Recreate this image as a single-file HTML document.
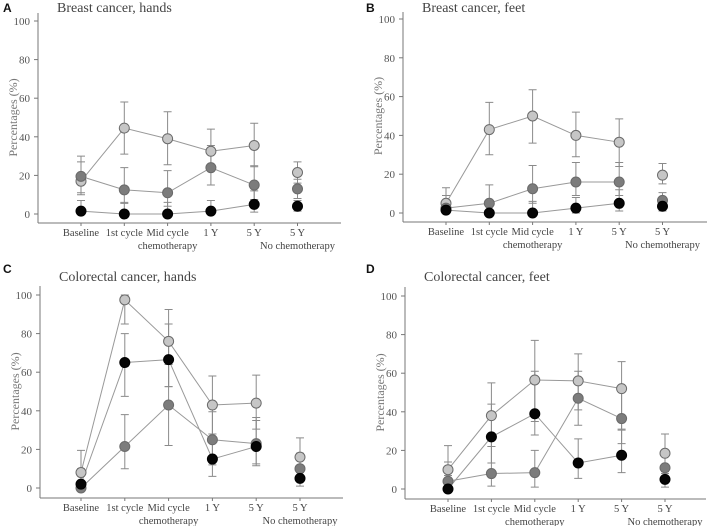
<!DOCTYPE html>
<html><head><meta charset="utf-8"><style>
html,body{margin:0;padding:0;background:#fff;}
svg{display:block;font-family:"Liberation Serif",serif;}
</style></head><body>
<svg id="chart" width="709" height="526" viewBox="0 0 709 526"></svg>
<script>
const categories = [["Baseline",""],["1st cycle",""],["Mid cycle","chemotherapy"],["1 Y",""],["5 Y",""],["5 Y","No chemotherapy"]];
const yTicks = [0,20,40,60,80,100];
const panelTitles = ["Breast cancer, hands","Breast cancer, feet","Colorectal cancer, hands","Colorectal cancer, feet"];
const panelLetters = ["A","B","C","D"];
const aLight=[17,44.5,39,32.5,35.5,21.5], aLightLo=[10,31,25.5,23.5,24.5,16], aLightHi=[27,58,53,44,47,27];
const aDark=[19.5,12.5,11,24,15,13], aDarkLo=[11,5.5,4,15,7.5,8], aDarkHi=[30,24,22.5,35.5,25,18];
const aBlack=[1.5,0,0,1.5,5,4], aBlackLo=[0,0,0,0,1,1.5], aBlackHi=[7,6,6,7,12,7];
const bLight=[5,43,50,40,36.5,19.5], bLightLo=[0,30,36,29,24,15], bLightHi=[13,57,63.5,52,48.5,25.5];
const bDark=[2.5,5,12.5,16,16,6.5], bDarkLo=[0,0,5,9,9,3], bDarkHi=[9,14.5,24.5,26,26,10.5];
const bBlack=[1.5,0,0,2.5,5,3.5], bBlackLo=[0,0,0,0,1,1], bBlackHi=[5,4,6,8,12,6];
const cLight=[8,97.5,76,43,44,16], cLightLo=[0,85,52.5,28,30.5,8], cLightHi=[19.5,100,92.5,58,58.5,26];
const cDark=[0,21.5,43,25,23,10], cDarkLo=[0,10,22,12,11.5,6], cDarkHi=[10,38,64,39.5,36.5,18];
const cBlack=[2,65,66.5,15,21.5,5], cBlackLo=[0,47.5,52.5,6,12.5,1], cBlackHi=[9,80,85,28,35,9];
const dLight=[10,38,56.5,56,52,18.5], dLightLo=[0,22,35,41,31,8], dLightHi=[22.5,55,77,70,66,28.5];
const dDark=[4,8,8.5,47,36.5,11], dDarkLo=[0,1.5,1,33,23.5,5], dDarkHi=[14,22,20,61,52,19];
const dBlack=[0,27,39,13.5,17.5,5], dBlackLo=[0,13.5,28,5.5,8.5,1], dBlackHi=[7,44,61,26,30.5,9];

const panelData=[
 [[aLight,aLightLo,aLightHi],[aDark,aDarkLo,aDarkHi],[aBlack,aBlackLo,aBlackHi]],
 [[bLight,bLightLo,bLightHi],[bDark,bDarkLo,bDarkHi],[bBlack,bBlackLo,bBlackHi]],
 [[cLight,cLightLo,cLightHi],[cDark,cDarkLo,cDarkHi],[cBlack,cBlackLo,cBlackHi]],
 [[dLight,dLightLo,dLightHi],[dDark,dDarkLo,dDarkHi],[dBlack,dBlackLo,dBlackHi]]
];
const geo=[
 {ax:38,y0:214,y100:21,xa:223,top:13,right:341,c0:81,dc:43.3,lx:3},
 {ax:403,y0:213,y100:19,xa:222,top:12,right:707,c0:446,dc:43.3,lx:366},
 {ax:40,y0:488,y100:295,xa:498,top:286,right:343,c0:81,dc:43.8,lx:3},
 {ax:405,y0:489,y100:296,xa:499,top:287,right:706,c0:448,dc:43.4,lx:366}
];
const fills=["#c6c6c6","#7c7c7c","#050505"];
const NS="http://www.w3.org/2000/svg";
const svg=document.getElementById('chart');
function mk(tag,attrs,parent){const e=document.createElementNS(NS,tag);for(const k in attrs)e.setAttribute(k,attrs[k]);(parent||svg).appendChild(e);return e;}
panelData.forEach((series,p)=>{
 const g=geo[p];
 const grp=mk('g',{});
 
 
 const ys=v=>g.y0+(g.y100-g.y0)*v/100;
 const xs=i=>g.c0+g.dc*i;
 const titleTop = p<2 ? 0 : 263;
 const L=mk('text',{x:g.lx,y:titleTop+(p<2?12:10),'font-family':'Liberation Sans,sans-serif','font-weight':'bold','font-size':'12',fill:'#111'},grp);
 L.textContent=panelLetters[p];
 
 
 const T=mk('text',{x:g.ax+19,y:titleTop+(p<2?12:18),'font-size':'14',fill:'#444'},grp);
 T.textContent=panelTitles[p];
 
 
 const yAx=mk('line',{x1:g.ax,y1:g.top,x2:g.ax,y2:g.xa,stroke:'#777','stroke-width':1},grp);
 
 
 const xAx=mk('line',{x1:g.ax,y1:g.xa,x2:g.right,y2:g.xa,stroke:'#777','stroke-width':1},grp);
 
 
 yTicks.forEach(t=>{
  const y=ys(t);
  mk('line',{x1:g.ax-4,y1:y,x2:g.ax,y2:y,stroke:'#777'},grp);
  const tl=mk('text',{x:g.ax-8,y:y+4,'text-anchor':'end','font-size':'11',fill:'#555'},grp);
  tl.textContent=t;
  
  
 });
 categories.forEach((c,i)=>{
  const x=xs(i);
  mk('line',{x1:x,y1:g.xa,x2:x,y2:g.xa+3,stroke:'#777'},grp);
  c.forEach((s,k)=>{ if(!s)return;
   const tx=mk('text',{x:x,y:g.xa+13+k*13,'text-anchor':'middle','font-size':'10.5',fill:'#444'},grp);
   tx.textContent=s;
   
   
  });
 });
 const yl=mk('text',{x:0,y:0,transform:`translate(${g.ax-21},${(g.y0+g.y100)/2}) rotate(-90)`,'text-anchor':'middle','font-size':'12',fill:'#777'},grp);
 yl.textContent='Percentages (%)';
 
 
 series.forEach((s,si)=>{
  s[0].forEach((v,i)=>{
   const x=xs(i);
   const e=mk('path',{d:`M${x},${ys(s[1][i])}V${ys(s[2][i])}M${x-4},${ys(s[1][i])}H${x+4}M${x-4},${ys(s[2][i])}H${x+4}`,stroke:'#8a8a8a','stroke-width':1,fill:'none'},grp);
   
   
  });
 });
 series.forEach((s,si)=>{
  const pts=s[0].slice(0,5).map((v,i)=>xs(i)+','+ys(v)).join(' ');
  const pl=mk('polyline',{points:pts,fill:'none',stroke:'#999','stroke-width':1},grp);
  
  
 });
 series.forEach((s,si)=>{
  s[0].forEach((v,i)=>{
   const m=mk('circle',{cx:xs(i),cy:ys(v),r:5,fill:fills[si],stroke:si==2?'#000':'#6a6a6a','stroke-width':1},grp);
   
   
  });
 });
});
</script>
</body></html>
